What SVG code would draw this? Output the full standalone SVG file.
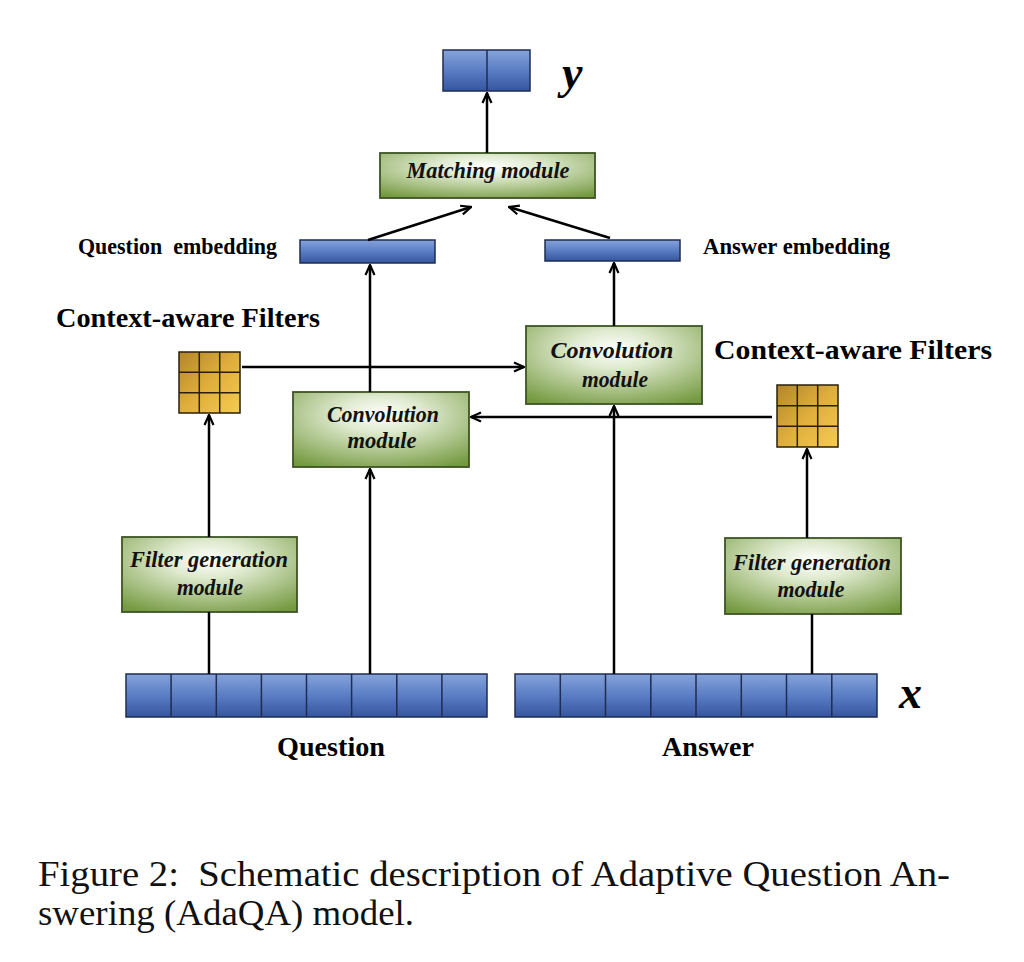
<svg xmlns="http://www.w3.org/2000/svg" width="1024" height="962" viewBox="0 0 1024 962">
<defs>
<linearGradient id="blue" x1="0" y1="0" x2="0" y2="1">
<stop offset="0" stop-color="#86a3db"/>
<stop offset="0.5" stop-color="#5a7dc4"/>
<stop offset="1" stop-color="#36559f"/>
</linearGradient>
<radialGradient id="green" cx="0.5" cy="0.3" r="0.8">
<stop offset="0" stop-color="#ffffff"/>
<stop offset="0.3" stop-color="#dfeacf"/>
<stop offset="1" stop-color="#74993f"/>
</radialGradient>
<linearGradient id="gold" x1="0" y1="0" x2="1" y2="1">
<stop offset="0" stop-color="#b3862a"/>
<stop offset="0.5" stop-color="#dfae3c"/>
<stop offset="1" stop-color="#f6cc52"/>
</linearGradient>
<marker id="arr" viewBox="0 0 12 12" refX="11" refY="6" markerWidth="12" markerHeight="12" markerUnits="userSpaceOnUse" orient="auto">
<path d="M1,1.5 L11,6 L1,10.5" fill="none" stroke="#000" stroke-width="2.2"/>
</marker>
</defs>
<style>
.bar{fill:url(#blue);stroke:#1f2d50;stroke-width:1.5}
.mod{fill:url(#green);stroke:#3c5524;stroke-width:1.8}
.flt{fill:url(#gold);stroke:#2a2008;stroke-width:1.5}
.cell{stroke:#1f2d50;stroke-width:1.5}
.gl{stroke:#2a2008;stroke-width:1.5}
.lbl{font-family:"Liberation Serif","Times New Roman",serif;font-weight:bold;fill:#000}
.mt{font-family:"Liberation Serif","Times New Roman",serif;font-weight:bold;font-style:italic;font-size:23px;fill:#111;text-anchor:middle}
.cap{font-family:"Liberation Serif","Times New Roman",serif;font-size:36px;fill:#111;white-space:pre}
.ln{stroke:#000;stroke-width:2.5;fill:none}
</style>
<rect width="1024" height="962" fill="#fff"/>

<g id="output-y">
<rect class="bar" x="443" y="50" width="87" height="41"/>
<line class="cell" x1="487" y1="50" x2="487" y2="91"/>
<text class="lbl" x="562" y="88" font-size="46" font-style="italic">y</text>
</g>

<g id="matching-module">
<rect class="mod" x="380" y="153" width="215" height="45"/>
<text class="mt" x="488" y="178" textLength="163" lengthAdjust="spacingAndGlyphs">Matching module</text>
</g>

<g id="question-embedding">
<rect class="bar" x="300" y="240" width="135" height="23"/>
<text class="lbl" x="78" y="254" font-size="23" textLength="199" lengthAdjust="spacingAndGlyphs" style="white-space:pre">Question  embedding</text>
</g>

<g id="answer-embedding">
<rect class="bar" x="545" y="240" width="135" height="21"/>
<text class="lbl" x="703" y="254" font-size="23" textLength="187" lengthAdjust="spacingAndGlyphs">Answer embedding</text>
</g>

<g id="filters-left">
<text class="lbl" x="56" y="327" font-size="27" textLength="264" lengthAdjust="spacingAndGlyphs">Context-aware Filters</text>
<rect class="flt" x="179" y="352" width="61" height="61"/>
<path class="gl" d="M199.3,352V413M219.7,352V413M179,372.3H240M179,392.7H240"/>
</g>

<g id="filters-right">
<text class="lbl" x="714" y="359" font-size="27" textLength="278" lengthAdjust="spacingAndGlyphs">Context-aware Filters</text>
<rect class="flt" x="777" y="385" width="61" height="62"/>
<path class="gl" d="M797.3,385V447M817.7,385V447M777,405.7H838M777,426.3H838"/>
</g>

<g id="conv-right">
<rect class="mod" x="526" y="326" width="176" height="78"/>
<text class="mt" x="612" y="358" textLength="123" lengthAdjust="spacingAndGlyphs">Convolution</text>
<text class="mt" x="615" y="387" textLength="66" lengthAdjust="spacingAndGlyphs">module</text>
</g>

<g id="conv-left">
<rect class="mod" x="293" y="392" width="176" height="75"/>
<text class="mt" x="383" y="422" textLength="112" lengthAdjust="spacingAndGlyphs">Convolution</text>
<text class="mt" x="382" y="448" textLength="69" lengthAdjust="spacingAndGlyphs">module</text>
</g>

<g id="filtergen-left">
<rect class="mod" x="122" y="537" width="175" height="75"/>
<text class="mt" x="209" y="567" textLength="158" lengthAdjust="spacingAndGlyphs">Filter generation</text>
<text class="mt" x="210" y="595" textLength="66" lengthAdjust="spacingAndGlyphs">module</text>
</g>

<g id="filtergen-right">
<rect class="mod" x="725" y="538" width="176" height="76"/>
<text class="mt" x="812" y="570" textLength="158" lengthAdjust="spacingAndGlyphs">Filter generation</text>
<text class="mt" x="811" y="597" textLength="67" lengthAdjust="spacingAndGlyphs">module</text>
</g>

<g id="question-input">
<rect class="bar" x="126" y="674" width="361" height="43"/>
<path class="cell" d="M171.1,674V717M216.3,674V717M261.4,674V717M306.5,674V717M351.6,674V717M396.8,674V717M441.9,674V717"/>
<text class="lbl" x="331" y="756" font-size="27" text-anchor="middle" textLength="108" lengthAdjust="spacingAndGlyphs">Question</text>
</g>

<g id="answer-input">
<rect class="bar" x="515" y="674" width="362" height="43"/>
<path class="cell" d="M560.3,674V717M605.5,674V717M650.8,674V717M696,674V717M741.3,674V717M786.5,674V717M831.8,674V717"/>
<text class="lbl" x="708" y="756" font-size="27" text-anchor="middle" textLength="92" lengthAdjust="spacingAndGlyphs">Answer</text>
<text class="lbl" x="899" y="708" font-size="46" font-style="italic">x</text>
</g>

<g id="connectors">
<line class="ln" x1="487" y1="153" x2="487" y2="93" marker-end="url(#arr)"/>
<line class="ln" x1="368" y1="240" x2="471" y2="207" marker-end="url(#arr)"/>
<line class="ln" x1="610" y1="238" x2="509" y2="207" marker-end="url(#arr)"/>
<line class="ln" x1="370" y1="392" x2="370" y2="265" marker-end="url(#arr)"/>
<line class="ln" x1="614" y1="326" x2="614" y2="263" marker-end="url(#arr)"/>
<line class="ln" x1="242" y1="367" x2="524" y2="367" marker-end="url(#arr)"/>
<line class="ln" x1="772" y1="417" x2="471" y2="417" marker-end="url(#arr)"/>
<line class="ln" x1="614" y1="674" x2="614" y2="406" marker-end="url(#arr)"/>
<line class="ln" x1="370" y1="674" x2="370" y2="469" marker-end="url(#arr)"/>
<line class="ln" x1="209" y1="537" x2="209" y2="415" marker-end="url(#arr)"/>
<line class="ln" x1="807" y1="538" x2="807" y2="449" marker-end="url(#arr)"/>
<line class="ln" x1="209" y1="612" x2="209" y2="674"/>
<line class="ln" x1="812" y1="614" x2="812" y2="674"/>
</g>

<g id="caption">
<text class="cap" x="38" y="886" textLength="912" lengthAdjust="spacingAndGlyphs">Figure 2:  Schematic description of Adaptive Question An-</text>
<text class="cap" x="38" y="925" textLength="376" lengthAdjust="spacingAndGlyphs">swering (AdaQA) model.</text>
</g>
</svg>
